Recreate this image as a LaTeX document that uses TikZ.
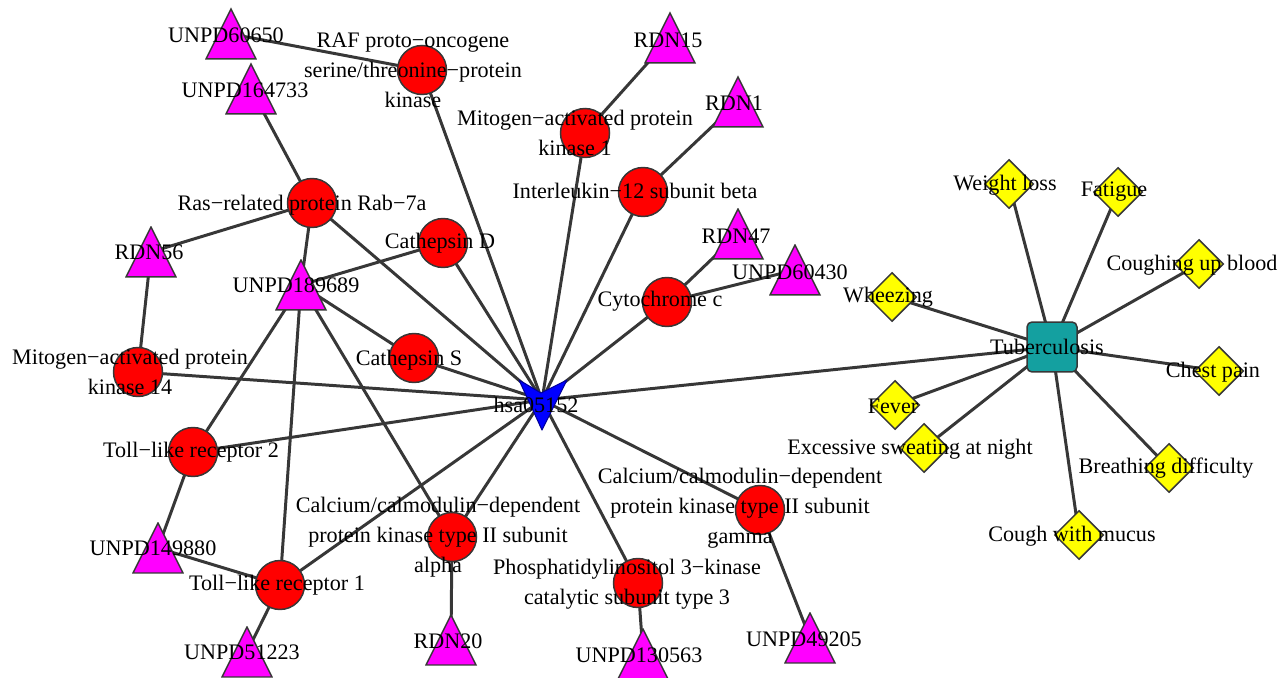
\documentclass[tikz,border=0pt]{standalone}
\usepackage{fontspec}
\setmainfont{Liberation Serif}
\usetikzlibrary{calc,shapes.geometric,backgrounds}

\definecolor{edgegray}{RGB}{55,55,55}
\definecolor{protred}{RGB}{255,0,0}
\definecolor{compmag}{RGB}{255,0,255}
\definecolor{sympyellow}{RGB}{255,255,0}
\definecolor{distel}{RGB}{20,160,160}
\definecolor{hubblue}{RGB}{0,0,255}

\begin{document}
\begin{tikzpicture}[x=0.02cm,y=-0.02cm,
  edge/.style={edgegray,line width=1.7pt},
  prot/.style={circle,draw=edgegray,line width=0.85pt,fill=protred,minimum size=0.98cm,inner sep=0},
  comp/.style={rectangle,minimum size=1.04cm,inner sep=0,
    path picture={\filldraw[draw=edgegray,line width=0.85pt,fill=compmag]
      ([yshift=-0.02cm]path picture bounding box.north) --
      ([shift={(0.02cm,0.02cm)}]path picture bounding box.south west) --
      ([shift={(-0.02cm,0.02cm)}]path picture bounding box.south east) -- cycle;}},
  symp/.style={diamond,draw=edgegray,line width=0.85pt,fill=sympyellow,minimum width=0.98cm,minimum height=0.98cm,inner sep=0},
  dis/.style={rectangle,rounded corners=0.1cm,draw=edgegray,line width=0.85pt,fill=distel,minimum size=1cm,inner sep=0},
  lbl/.style={font=\fontsize{12.6}{17}\selectfont,align=center,inner sep=0}]

\useasboundingbox (0,0) rectangle (1280,678);

\coordinate (hsa) at (542,400);

\node [prot] (raf) at (422,70) {};
\node [prot] (mapk1) at (585,133) {};
\node [prot] (il12) at (643,192) {};
\node [prot] (cytc) at (667,302) {};
\node [prot] (ctsd) at (443,243) {};
\node [prot] (ctss) at (414,358) {};
\node [prot] (rab) at (312,203) {};
\node [prot] (mapk14) at (138,372) {};
\node [prot] (tlr2) at (193,452) {};
\node [prot] (tlr1) at (280,585) {};
\node [prot] (camka) at (452,537) {};
\node [prot] (pik) at (638,583) {};
\node [prot] (camkg) at (760,510) {};

\node [comp] (u60650) at (231,34) {};
\node [comp] (u164733) at (251,89) {};
\node [comp] (rdn56) at (151,252) {};
\node [comp] (u189689) at (301,285) {};
\node [comp] (rdn15) at (670,38) {};
\node [comp] (rdn1) at (738,102) {};
\node [comp] (rdn47) at (738,234) {};
\node [comp] (u60430) at (795,270) {};
\node [comp] (u149880) at (158,548) {};
\node [comp] (u51223) at (247,652) {};
\node [comp] (rdn20) at (451,640) {};
\node [comp] (u130563) at (643,654) {};
\node [comp] (u49205) at (810,638) {};

\node [dis] (tb) at (1052,347) {};

\node [symp] (wl) at (1009,184) {};
\node [symp] (fat) at (1118,192) {};
\node [symp] (cub) at (1199,264) {};
\node [symp] (whz) at (892,297) {};
\node [symp] (cp) at (1219,371) {};
\node [symp] (fev) at (895,405) {};
\node [symp] (esn) at (924,448) {};
\node [symp] (bd) at (1169,468) {};
\node [symp] (cwm) at (1079,535) {};

\begin{scope}[on background layer]
\foreach \n in {raf,mapk1,il12,cytc,ctsd,ctss,rab,mapk14,tlr2,tlr1,camka,pik,camkg,tb}
  \draw [edge] (hsa) -- (\n.center);
\foreach \a/\b in {u60650/raf,u164733/rab,rdn56/rab,rdn56/mapk14,u189689/rab,u189689/ctsd,
    u189689/ctss,u189689/tlr2,u189689/tlr1,u189689/camka,rdn15/mapk1,rdn1/il12,rdn47/cytc,
    u60430/cytc,u149880/tlr2,u149880/tlr1,u51223/tlr1,rdn20/camka,u130563/pik,u49205/camkg}
  \draw [edge] (\a.center) -- (\b.center);
\foreach \n in {wl,fat,cub,whz,cp,fev,esn,bd,cwm}
  \draw [edge] (tb.center) -- (\n.center);
\end{scope}

\filldraw [fill=hubblue,draw=blue!60!black,line width=0.6pt,line join=round]
  ($(hsa)+(-23,-20)$) -- ($(hsa)+(-1,-7)$) -- ($(hsa)+(25,-20)$) -- ($(hsa)+(0,30)$) -- cycle;

\node [lbl] (t-raf) at (413,70) {RAF proto−oncogene\\serine/threonine−protein\\kinase};
\node [lbl] (t-mapk1) at (575,133) {Mitogen−activated protein\\kinase 1};
\node [lbl] (t-il12) at (635,191) {Interleukin−12 subunit beta};
\node [lbl] (t-cytc) at (660,301) {Cytochrome c};
\node [lbl] (t-ctsd) at (440,243) {Cathepsin D};
\node [lbl] (t-ctss) at (409,360) {Cathepsin S};
\node [lbl] (t-rab) at (302,205) {Ras−related protein Rab−7a};
\node [lbl] (t-mapk14) at (130,372) {Mitogen−activated protein\\kinase 14};
\node [lbl] (t-tlr2) at (191,452) {Toll−like receptor 2};
\node [lbl] (t-tlr1) at (277,585) {Toll−like receptor 1};
\node [lbl] (t-camka) at (438,537) {Calcium/calmodulin−dependent\\protein kinase type II subunit\\alpha};
\node [lbl] (t-pik) at (627,584) {Phosphatidylinositol 3−kinase\\catalytic subunit type 3};
\node [lbl] (t-camkg) at (740,508) {Calcium/calmodulin−dependent\\protein kinase type II subunit\\gamma};

\node [lbl] (t-u60650) at (226,35) {UNPD60650};
\node [lbl] (t-u164733) at (245,90) {UNPD164733};
\node [lbl] (t-rdn56) at (149,252) {RDN56};
\node [lbl] (t-u189689) at (296,285) {UNPD189689};
\node [lbl] (t-rdn15) at (668,40) {RDN15};
\node [lbl] (t-rdn1) at (734,103) {RDN1};
\node [lbl] (t-rdn47) at (736,236) {RDN47};
\node [lbl] (t-u60430) at (790,272) {UNPD60430};
\node [lbl] (t-u149880) at (153,548) {UNPD149880};
\node [lbl] (t-u51223) at (242,652) {UNPD51223};
\node [lbl] (t-rdn20) at (448,641) {RDN20};
\node [lbl] (t-u130563) at (639,655) {UNPD130563};
\node [lbl] (t-u49205) at (804,639) {UNPD49205};

\node [lbl] (t-hsa) at (536,405) {hsa05152};
\node [lbl] (t-tb) at (1047,347) {Tuberculosis};

\node [lbl] (t-wl) at (1005,185) {Weight loss};
\node [lbl] (t-fat) at (1114,192) {Fatigue};
\node [lbl] (t-cub) at (1192,265) {Coughing up blood};
\node [lbl] (t-whz) at (888,297) {Wheezing};
\node [lbl] (t-cp) at (1213,372) {Chest pain};
\node [lbl] (t-fev) at (893,406) {Fever};
\node [lbl] (t-esn) at (910,449) {Excessive sweating at night};
\node [lbl] (t-bd) at (1166,468) {Breathing difficulty};
\node [lbl] (t-cwm) at (1072,536) {Cough with mucus};

\end{tikzpicture}
\end{document}
